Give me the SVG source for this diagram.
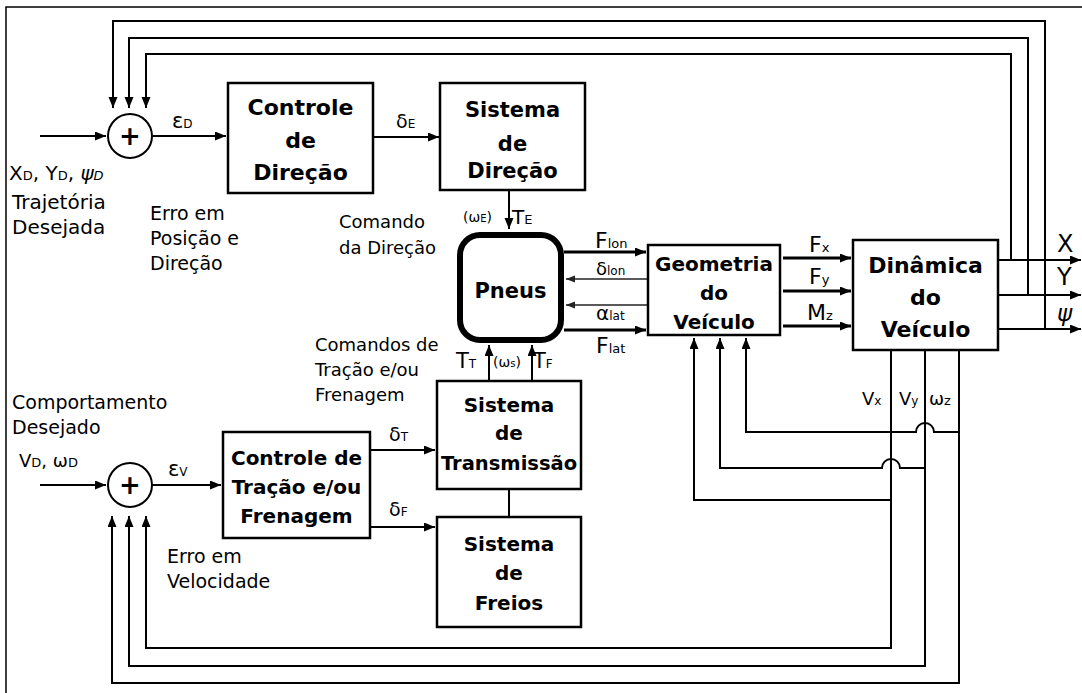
<svg xmlns="http://www.w3.org/2000/svg" width="1082" height="693" viewBox="0 0 1082 693">
<defs>
<marker id="ah" markerUnits="userSpaceOnUse" markerWidth="12" markerHeight="10" refX="11" refY="4.5" orient="auto"><path d="M0,0 L11,4.5 L0,9 z" fill="#000"/></marker>
<marker id="ahs" markerUnits="userSpaceOnUse" markerWidth="10" markerHeight="8" refX="9" refY="3.5" orient="auto"><path d="M0,0 L9,3.5 L0,7 z" fill="#222"/></marker>
</defs>
<style>
.box{fill:#fff;stroke:#000;stroke-width:2.5}
.ln{fill:none;stroke:#000;stroke-width:2}
.thk{fill:none;stroke:#000;stroke-width:3}
.thin{fill:none;stroke:#222;stroke-width:1.3}
.bt{font-family:"DejaVu Sans",sans-serif;font-weight:bold;text-anchor:middle;fill:#000}
.lbl{font-family:"DejaVu Sans",sans-serif;fill:#000}
.sub{font-size:13px}
.sym{font-family:"DejaVu Sans",sans-serif;fill:#000}
</style>
<rect width="1082" height="693" fill="#fff"/>
<path d="M6,693 V7 H1082" fill="none" stroke="#000" stroke-width="1.5"/>

<g id="connectors">
  <path class="ln" d="M998,260 H1081" marker-end="url(#ah)"/>
  <path class="ln" d="M998,295 H1081" marker-end="url(#ah)"/>
  <path class="ln" d="M998,329 H1081" marker-end="url(#ah)"/>
  <path class="ln" d="M1011,260 V54 H146 V108" marker-end="url(#ah)"/>
  <path class="ln" d="M1028,295 V38 H129 V108" marker-end="url(#ah)"/>
  <path class="ln" d="M1045,329 V21 H113 V108" marker-end="url(#ah)"/>
  <path class="ln" d="M40,136 H106" marker-end="url(#ah)"/>
  <path class="ln" d="M153,136 H226" marker-end="url(#ah)"/>
  <path class="ln" d="M373,137 H439" marker-end="url(#ah)"/>
  <path class="ln" d="M509,190 V229" marker-end="url(#ah)"/>
  <path class="thk" d="M564,252 H646" marker-end="url(#ah)"/>
  <path class="thin" d="M647,279 H566" marker-end="url(#ahs)"/>
  <path class="thin" d="M647,305 H566" marker-end="url(#ahs)"/>
  <path class="thk" d="M564,330 H646" marker-end="url(#ah)"/>
  <path class="thk" d="M783,258 H851" marker-end="url(#ah)"/>
  <path class="thk" d="M783,291 H851" marker-end="url(#ah)"/>
  <path class="thk" d="M783,326 H851" marker-end="url(#ah)"/>
  <path class="ln" d="M891,500 H694 V338" marker-end="url(#ah)"/>
  <path class="ln" d="M925,468 H900 A9,9 0 0 0 882,468 H720 V338" marker-end="url(#ah)"/>
  <path class="ln" d="M959,432 H934 A9,9 0 0 0 916,432 H746 V338" marker-end="url(#ah)"/>
  <path class="ln" d="M891,350 V648 H146 V516" marker-end="url(#ah)"/>
  <path class="ln" d="M925,350 V666 H129 V516" marker-end="url(#ah)"/>
  <path class="ln" d="M959,350 V683 H112 V516" marker-end="url(#ah)"/>
  <path class="ln" d="M40,485 H106" marker-end="url(#ah)"/>
  <path class="ln" d="M152,485 H221" marker-end="url(#ah)"/>
  <path class="ln" d="M370,450 H435" marker-end="url(#ah)"/>
  <path class="ln" d="M370,527 H435" marker-end="url(#ah)"/>
  <path class="ln" d="M489,381 V345" marker-end="url(#ah)"/>
  <path class="ln" d="M532,381 V345" marker-end="url(#ah)"/>
  <path class="ln" d="M509,489 V517"/>
</g>

<g id="sum-top">
  <circle cx="130" cy="136" r="22" fill="#fff" stroke="#000" stroke-width="2"/>
  <text x="130" y="145" class="bt" font-size="26">+</text>
</g>
<g id="sum-bottom">
  <circle cx="130" cy="485" r="22" fill="#fff" stroke="#000" stroke-width="2"/>
  <text x="130" y="494" class="bt" font-size="26">+</text>
</g>

<g id="controle-direcao">
  <rect class="box" x="228" y="83" width="145" height="110"/>
  <text class="bt" x="300.5" y="115" font-size="22">Controle</text>
  <text class="bt" x="300.5" y="148" font-size="22">de</text>
  <text class="bt" x="300.5" y="180" font-size="22">Direção</text>
</g>
<g id="sistema-direcao">
  <rect class="box" x="440" y="83" width="145" height="107"/>
  <text class="bt" x="512.5" y="117" font-size="21">Sistema</text>
  <text class="bt" x="512.5" y="151" font-size="21">de</text>
  <text class="bt" x="512.5" y="178" font-size="21">Direção</text>
</g>
<g id="pneus">
  <rect x="460" y="235" width="101" height="105" rx="20" fill="#fff" stroke="#000" stroke-width="6"/>
  <text class="bt" x="510.5" y="298" font-size="21">Pneus</text>
</g>
<g id="geometria">
  <rect class="box" x="648" y="245" width="132" height="90"/>
  <text class="bt" x="714" y="271" font-size="20">Geometria</text>
  <text class="bt" x="714" y="300" font-size="20">do</text>
  <text class="bt" x="714" y="329" font-size="20">Veículo</text>
</g>
<g id="dinamica">
  <rect class="box" x="853" y="240" width="145" height="110"/>
  <text class="bt" x="925.5" y="273" font-size="22">Dinâmica</text>
  <text class="bt" x="925.5" y="305" font-size="22">do</text>
  <text class="bt" x="925.5" y="337" font-size="22">Veículo</text>
</g>
<g id="controle-tracao">
  <rect class="box" x="223" y="432" width="147" height="106"/>
  <text class="bt" x="296.5" y="465" font-size="20">Controle de</text>
  <text class="bt" x="296.5" y="494" font-size="20">Tração e/ou</text>
  <text class="bt" x="296.5" y="523" font-size="20">Frenagem</text>
</g>
<g id="sistema-transmissao">
  <rect class="box" x="437" y="381" width="144" height="108"/>
  <text class="bt" x="509" y="412" font-size="20">Sistema</text>
  <text class="bt" x="509" y="440" font-size="20">de</text>
  <text class="bt" x="509" y="470" font-size="19.5">Transmissão</text>
</g>
<g id="sistema-freios">
  <rect class="box" x="437" y="517" width="144" height="110"/>
  <text class="bt" x="509" y="551" font-size="20">Sistema</text>
  <text class="bt" x="509" y="580" font-size="20">de</text>
  <text class="bt" x="509" y="610" font-size="20">Freios</text>
</g>

<g id="labels">
  <text class="lbl" x="9" y="180" font-size="20">X<tspan class="sub">D</tspan>, Y<tspan class="sub">D</tspan>, <tspan font-style="italic">ψ</tspan><tspan class="sub" font-style="italic">D</tspan></text>
  <text class="lbl" x="12" y="209" font-size="20">Trajetória</text>
  <text class="lbl" x="12" y="234" font-size="20">Desejada</text>
  <text class="lbl" x="150" y="220" font-size="19">Erro em</text>
  <text class="lbl" x="150" y="245" font-size="19">Posição e</text>
  <text class="lbl" x="150" y="270" font-size="19">Direção</text>
  <text class="sym" x="172" y="128" font-size="21">ε<tspan font-size="12">D</tspan></text>
  <text class="sym" x="396" y="128" font-size="19">δ<tspan font-size="12">E</tspan></text>
  <text class="lbl" x="339" y="228" font-size="18">Comando</text>
  <text class="lbl" x="339" y="254" font-size="18">da Direção</text>
  <text class="sym" x="463" y="222" font-size="14">(ω<tspan font-size="10">E</tspan>)</text>
  <text class="sym" x="512" y="224" font-size="20">T<tspan font-size="13">E</tspan></text>
  <text class="sym" x="595" y="248" font-size="22">F<tspan font-size="13">lon</tspan></text>
  <text class="sym" x="596" y="275" font-size="18">δ<tspan font-size="12">lon</tspan></text>
  <text class="sym" x="596" y="320" font-size="20">α<tspan font-size="12">lat</tspan></text>
  <text class="sym" x="596" y="353" font-size="22">F<tspan font-size="13">lat</tspan></text>
  <text class="sym" x="809" y="252" font-size="22">F<tspan font-size="13">x</tspan></text>
  <text class="sym" x="809" y="284" font-size="22">F<tspan font-size="13">y</tspan></text>
  <text class="sym" x="807" y="320" font-size="22">M<tspan font-size="13">z</tspan></text>
  <text class="sym" x="1057" y="252" font-size="24">X</text>
  <text class="sym" x="1057" y="285" font-size="24">Y</text>
  <text class="sym" x="1057" y="321" font-size="23" font-style="italic">ψ</text>
  <text class="sym" x="862" y="405" font-size="18">V<tspan font-size="12">x</tspan></text>
  <text class="sym" x="899" y="405" font-size="18">V<tspan font-size="12">y</tspan></text>
  <text class="sym" x="929" y="405" font-size="18">ω<tspan font-size="13">z</tspan></text>
  <text class="lbl" x="315" y="351" font-size="18">Comandos de</text>
  <text class="lbl" x="315" y="376" font-size="18">Tração e/ou</text>
  <text class="lbl" x="315" y="401" font-size="18">Frenagem</text>
  <text class="sym" x="456" y="368" font-size="21">T<tspan font-size="12">T</tspan></text>
  <text class="sym" x="493" y="367" font-size="14">(ω<tspan font-size="10">s</tspan>)</text>
  <text class="sym" x="533" y="368" font-size="21">T<tspan font-size="12">F</tspan></text>
  <text class="sym" x="389" y="441" font-size="19">δ<tspan font-size="12">T</tspan></text>
  <text class="sym" x="389" y="516" font-size="19">δ<tspan font-size="12">F</tspan></text>
  <text class="sym" x="168" y="476" font-size="21">ε<tspan font-size="12">V</tspan></text>
  <text class="lbl" x="12" y="409" font-size="19">Comportamento</text>
  <text class="lbl" x="12" y="434" font-size="19">Desejado</text>
  <text class="lbl" x="19" y="467" font-size="18">V<tspan class="sub">D</tspan>, ω<tspan class="sub">D</tspan></text>
  <text class="lbl" x="167" y="563" font-size="19">Erro em</text>
  <text class="lbl" x="167" y="588" font-size="19">Velocidade</text>
</g>
</svg>
